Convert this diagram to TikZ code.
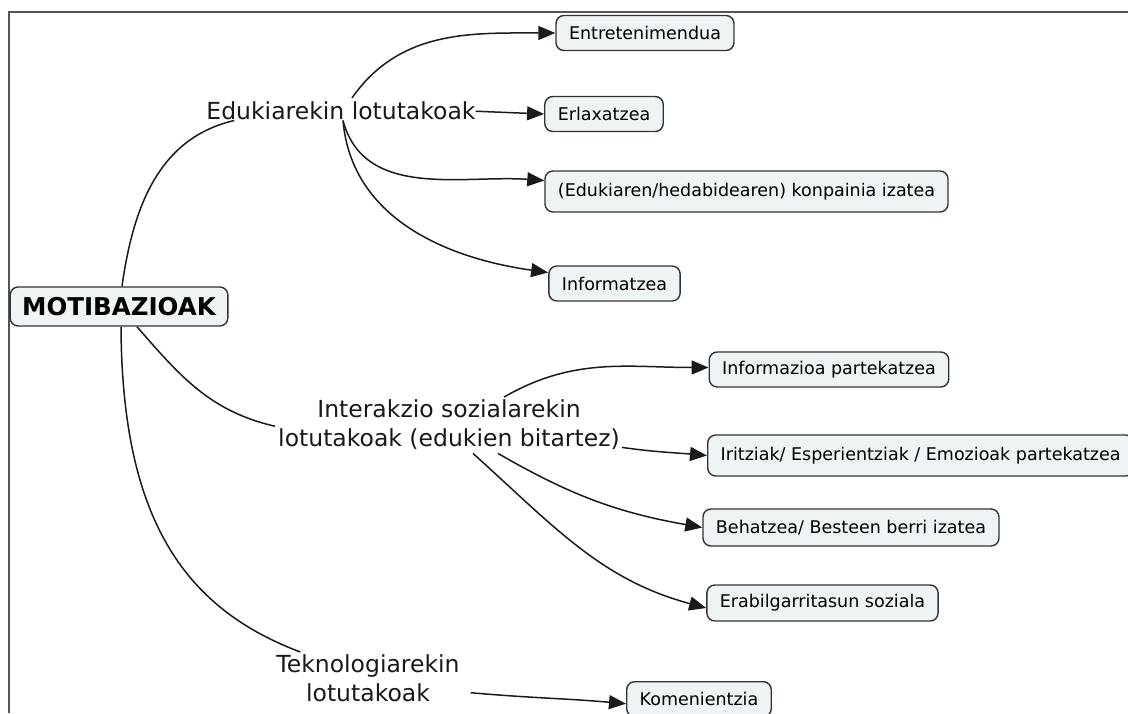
\documentclass[tikz,border=0pt]{standalone}
\usepackage{fontspec}
\setmainfont{DejaVu Sans}
\usetikzlibrary{arrows.meta}
\definecolor{boxfill}{HTML}{EEF3F6}
\definecolor{boxline}{HTML}{333333}
\definecolor{connc}{HTML}{1A1A1A}
\definecolor{framec}{HTML}{555555}
\begin{document}
\begin{tikzpicture}[x=1pt,y=1pt,
 box/.style={draw=boxline, fill=boxfill, line width=1.4pt, rounded corners=8pt, font=\fontsize{17.5}{20}\selectfont, inner xsep=13pt, inner ysep=0pt, minimum height=35pt},
 lbl/.style={inner sep=0pt, font=\fontsize{23.5}{29}\selectfont, text=black!90, align=center},
 conn/.style={draw=connc, line width=1.5pt, -{Triangle[length=17pt,width=14pt]}},
 link/.style={draw=connc, line width=1.5pt},
 frameline/.style={draw=framec, line width=1.5pt}]
\useasboundingbox (0,0) rectangle (1128,713);
\draw[frameline] (1128,701) -- (9,701) -- (9,0);
% boxes
\node[box, font=\bfseries\fontsize{24.5}{28}\selectfont, minimum height=39pt, inner xsep=12pt] (motib) at (119,406.5) {MOTIBAZIOAK};
\node[box] (entre) at (645,680) {Entretenimendua};
\node[box] (erl) at (604,599) {Erlaxatzea};
\node[box, minimum height=41pt] (konp) at (746.5,521.5) {(Edukiaren/hedabidearen) konpainia izatea};
\node[box] (inform) at (614.5,429.5) {Informatzea};
\node[box] (infpart) at (829,343.5) {Informazioa partekatzea};
\node[box, minimum height=41pt, anchor=west] (irit) at (707,257.5) {Iritziak/ Esperientziak / Emozioak partekatzea};
\node[box, minimum height=37pt] (behat) at (851,185.5) {Behatzea/ Besteen berri izatea};
\node[box, minimum height=36pt] (erab) at (822.5,110) {Erabilgarritasun soziala};
\node[box, anchor=north west] (komen) at (626,32) {Komenientzia};
% labels
\node[lbl, anchor=base] (edu) at (341,593) {Edukiarekin lotutakoak};
\node[lbl] (inter) at (449,288.75) {Interakzio sozialarekin\\lotutakoak (edukien bitartez)};
\node[lbl] (tekno) at (368,35.25) {Teknologiarekin\\lotutakoak};
% connectors
\draw[link] ([xshift=3pt]motib.north) to[out=82,in=193] ([xshift=28pt]edu.south west);
\draw[conn] ([shift={(11pt,4pt)}]edu.north) to[out=55,in=180] (entre.west);
\draw[conn] (edu.east) -- (erl.west);
\draw[conn] ([xshift=2pt]edu.south) to[out=-75,in=176] ([yshift=11pt]konp.west);
\draw[conn] ([xshift=2pt]edu.south) to[out=-85,in=172] ([yshift=11pt]inform.west);
\draw[link] ([xshift=18pt]motib.south) to[out=-49,in=167] ([xshift=-3pt,yshift=-2pt]inter.west);
\draw[conn] ([shift={(55pt,2pt)}]inter.north) to[out=30,in=180] ([yshift=2pt]infpart.west);
\draw[conn] ([shift={(2pt,2pt)}]inter.south east) to[out=-8,in=175] (irit.west);
\draw[conn] ([shift={(49pt,-4pt)}]inter.south) to[out=-30,in=170] (behat.west);
\draw[conn] ([shift={(24pt,-4pt)}]inter.south) to[out=-42,in=165] ([yshift=-5pt]erab.west);
\draw[link] ([xshift=2pt]motib.south) .. controls +(1,-187) and +(-120,45) .. ([xshift=24pt,yshift=2pt]tekno.north west);
\draw[conn] ([shift={(11pt,-15pt)}]tekno.east) to[out=-5,in=175] ([yshift=-4.5pt]komen.west);
\end{tikzpicture}
\end{document}
